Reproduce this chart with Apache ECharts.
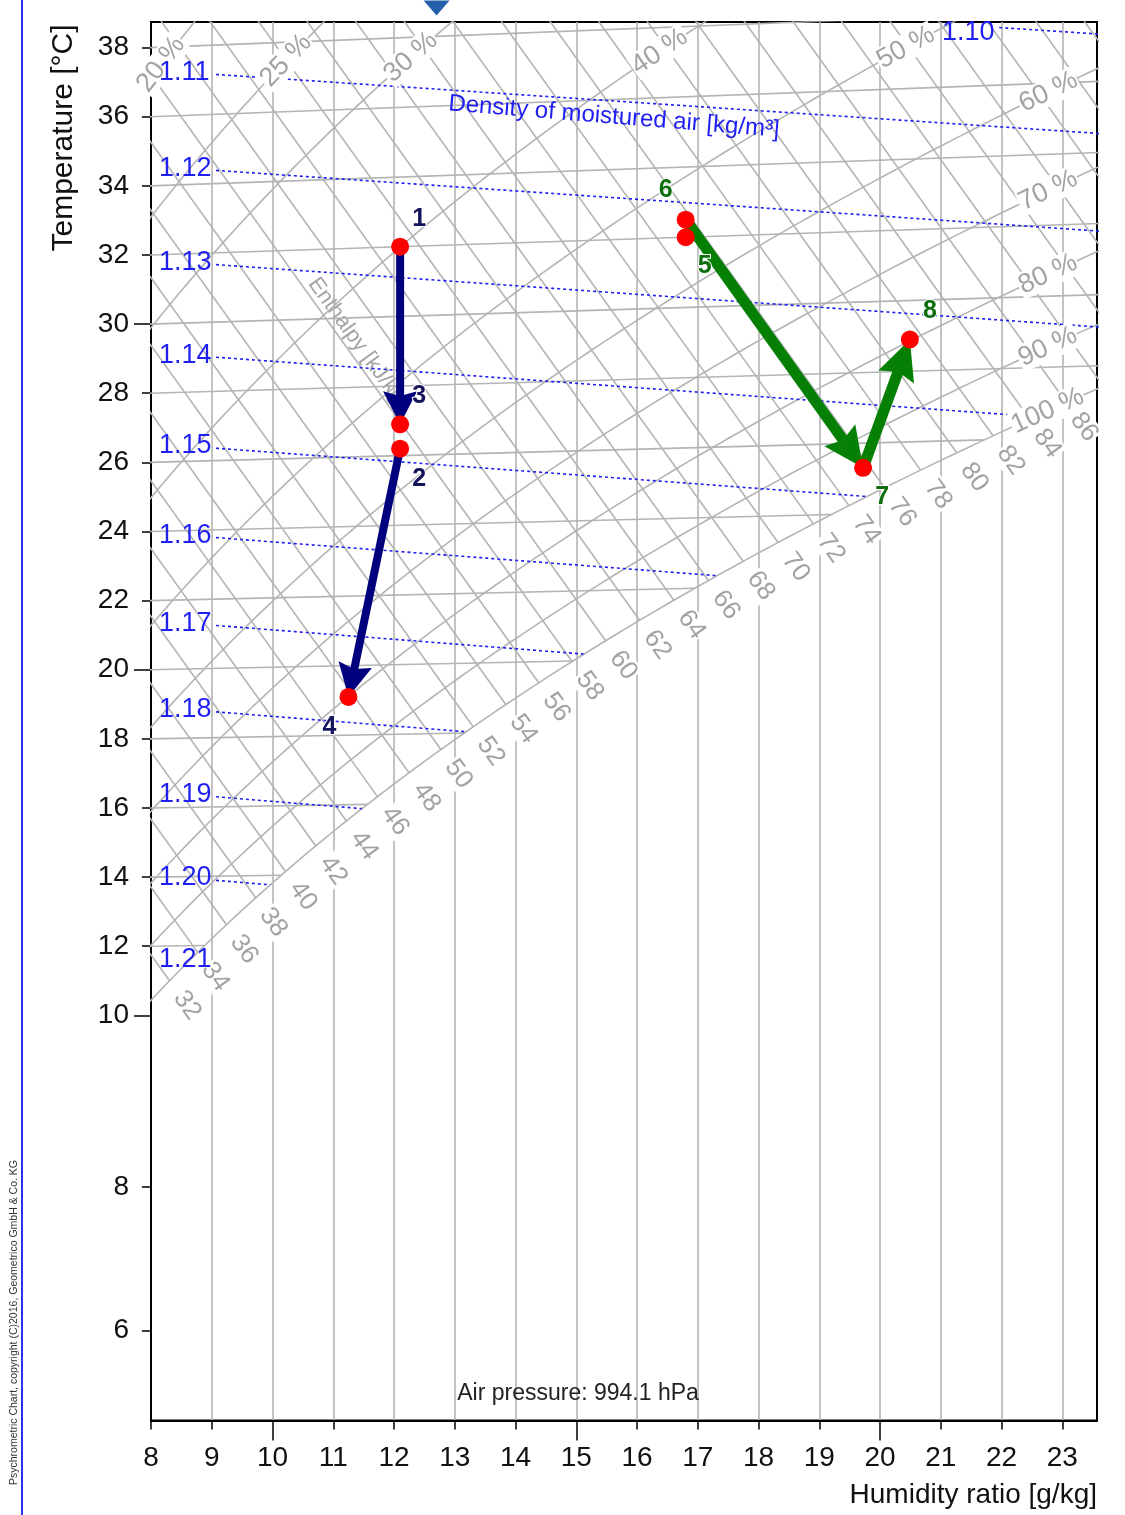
<!DOCTYPE html>
<html><head><meta charset="utf-8"><title>Psychrometric chart</title>
<script src="https://cdn.jsdelivr.net/npm/echarts@6.0.0/dist/echarts.min.js"></script>
<style>html,body{margin:0;padding:0;background:#fff;}#chart{width:1125px;height:1515px;}</style>
</head><body><div id="chart"></div>
<script>
// ---------------- values ----------------
const airPressure = 994.1; // hPa
const pointNames = ['1', '2', '3', '4', '5', '6', '7', '8'];
const pointHumidity = [12.1, 12.1, 12.1, 11.25, 16.8, 16.8, 19.72, 20.49]; // g/kg
const pointTemp = [32.0, 26.2, 26.9, 19.1, 32.0, 32.5, 25.3, 28.9];        // °C
const pointProcess = ['A', 'A', 'A', 'A', 'B', 'B', 'B', 'B'];
const arrowFrom = ['1', '2', '6', '7'];
const arrowTo = ['3', '4', '7', '8'];
const markerHumidity = [12.7];
const xTickLabels = [8, 9, 10, 11, 12, 13, 14, 15, 16, 17, 18, 19, 20, 21, 22, 23];
const xMajorTicks = [10, 15, 20];
const yTickLabels = [6, 8, 10, 12, 14, 16, 18, 20, 22, 24, 26, 28, 30, 32, 34, 36, 38];
const yMajorTicks = [10, 20, 30];
const isothermLevels = [12, 14, 16, 18, 20, 22, 24, 26, 28, 30, 32, 34, 36, 38];
const enthalpyLevels = [30, 32, 34, 36, 38, 40, 42, 44, 46, 48, 50, 52, 54, 56, 58, 60, 62, 64, 66, 68, 70, 72, 74, 76, 78, 80, 82, 84, 86, 88, 90, 92, 94, 96, 98, 100];
const enthalpyLabelLevels = [32, 34, 36, 38, 40, 42, 44, 46, 48, 50, 52, 54, 56, 58, 60, 62, 64, 66, 68, 70, 72, 74, 76, 78, 80, 82, 84, 86];
const rhLevels = [20, 25, 30, 40, 50, 60, 70, 80, 90, 100];
const densityLevels = [1.10, 1.11, 1.12, 1.13, 1.14, 1.15, 1.16, 1.17, 1.18, 1.19, 1.20, 1.21];

// ---------------- layout ----------------
const W = 1125, H = 1515;
const GRID = { left: 151, right: 28, top: 22, bottom: 94.5 };
const X_MIN = 8, X_MAX = 23.57, Y_MIN = -1.76, Y_MAX = 39.55;
const SX = (W - GRID.left - GRID.right) / (X_MAX - X_MIN);
const SY = (H - GRID.top - GRID.bottom) / (Y_MAX - Y_MIN);
const FONT = "'Liberation Sans', Arial, Helvetica, sans-serif";
const GRAY = '#b4b4b4', LABEL_GRAY = '#a3a3a3', BLUE = '#1f1ff2';

// ---------------- Mollier (h,x) chart coordinate system ----------------
const P = airPressure;
const pws = T => 6.112 * Math.exp(17.62 * T / (243.12 + T));
const xSat = T => { const e = pws(T); return 622 * e / (P - e); };
const hOf = (T, x) => 1.006 * T + x * (2.501 + 0.00186 * T);
const skewY = (T, x) => hOf(T, x) - 2.501 * x;           // chart ordinate (kJ/kg)
const tDew = x => { const e = P * x / (622 + x); const l = Math.log(e / 6.112); return 243.12 * l / (17.62 - l); };
const fogY = (T, x) => { const xs = xSat(T); return hOf(T, xs) + (x - xs) * 0.00419 * T - 2.501 * x; };
const tickY = T => (T >= 10 ? skewY(T, 8) : fogY(T, 8));
const densT = (rho, x) => { const X = x / 1000; return P * 100 * (1 + X) / (287.05 * rho * (1 + 1.6078 * X)) - 273.15; };
function satTforH(h) { let a = -20, b = 60; for (let i = 0; i < 60; i++) { const m = (a + b) / 2; if (hOf(m, xSat(m)) < h) a = m; else b = m; } return (a + b) / 2; }
const inside = p => p[0] >= X_MIN - 1e-9 && p[0] <= X_MAX + 1e-9 && p[1] >= Y_MIN && p[1] <= Y_MAX + 1e-9;
const pxDist = (a, b) => Math.hypot((b[0] - a[0]) * SX, (b[1] - a[1]) * SY);
const pxAngle = (a, b) => Math.atan2((b[1] - a[1]) * SY, (b[0] - a[0]) * SX) * 180 / Math.PI;

function lineSeries(data, color, width, type, z) {
  return { type: 'line', data: data, showSymbol: false, symbol: 'none', silent: true, clip: true,
    animation: false, z: z, lineStyle: { color: color, width: width, type: type } };
}

const series = [];
// isotherms
isothermLevels.forEach(T => {
  const xe = Math.min(xSat(T), X_MAX + 1);
  series.push(lineSeries([[X_MIN - 0.2, skewY(T, X_MIN - 0.2)], [xe, skewY(T, xe)]], GRAY, 1.6, 'solid', 1));
});
// enthalpy lines
const enthLabelData = [];
enthalpyLevels.forEach(h => {
  const Ts = satTforH(h), xs = xSat(Ts);
  const xe = Math.min(xs, X_MAX + 1);
  series.push(lineSeries([[xe, h - 2.501 * xe], [X_MIN - 0.5, h - 2.501 * (X_MIN - 0.5)]], GRAY, 1.6, 'solid', 1));
  if (enthalpyLabelLevels.indexOf(h) >= 0) {
    const xl = xs + 0.29;
    enthLabelData.push({ value: [xl, h - 2.501 * xl], label: { formatter: String(h) } });
  }
});
// relative humidity curves
const rhLabelData = [];
rhLevels.forEach(rh => {
  const pts = [];
  for (let T = -10; T <= 48; T += 0.2) {
    const e = rh / 100 * pws(T), x = 622 * e / (P - e);
    if (x > 30) break;
    pts.push([x, skewY(T, x)]);
  }
  series.push(lineSeries(pts, GRAY, 1.6, 'solid', 1));
  let i = pts.length - 1; while (i > 0 && !inside(pts[i])) i--;
  let a = pts[i], b = pts[i + 1] || pts[i];
  let lo = 0, hi = 1; for (let k = 0; k < 40; k++) { const m = (lo + hi) / 2; const q = [a[0] + (b[0] - a[0]) * m, a[1] + (b[1] - a[1]) * m]; if (inside(q)) lo = m; else hi = m; }
  let cur = [a[0] + (b[0] - a[0]) * lo, a[1] + (b[1] - a[1]) * lo];
  let need = 54, j = i;
  while (j > 0) {
    const d = pxDist(pts[j], cur);
    if (d >= need) { const t = need / d; cur = [cur[0] + (pts[j][0] - cur[0]) * t, cur[1] + (pts[j][1] - cur[1]) * t]; break; }
    need -= d; cur = pts[j]; j--;
  }
  const ang = pxAngle(pts[Math.max(j - 1, 0)], pts[Math.min(j + 1, pts.length - 1)]);
  rhLabelData.push({ value: cur, label: { formatter: rh + ' %', rotate: ang } });
});
// density lines
const densLabelData = [];
densityLevels.forEach(rho => {
  const Yd = x => skewY(densT(rho, x), x);
  let xl = X_MIN + 0.13;
  while (Yd(xl) > Y_MAX && xl < X_MAX) xl += 0.02;
  const atTop = xl > X_MIN + 0.2;
  if (atTop) xl += 0.45;
  densLabelData.push({ value: [xl, Math.min(Yd(xl + 0.45), Y_MAX - 0.3)], label: { formatter: rho.toFixed(2) } });
  const pts = [];
  let prev = null;
  for (let x = xl + 0.94; x <= X_MAX + 0.5; x += 0.05) {
    const T = densT(rho, x), td = tDew(x);
    if (T < td) {
      if (prev) { const f = prev[2] / (prev[2] - (T - td)); const xc = prev[0] + (x - prev[0]) * f; pts.push([xc, Yd(xc)]); }
      break;
    }
    pts.push([x, Yd(x)]); prev = [x, T, T - td];
  }
  if (pts.length > 1) series.push(lineSeries(pts, BLUE, 1.6, [3, 3], 2));
});

// label layers
const solid = { opacity: 1 };
series.push({ type: 'scatter', data: enthLabelData, symbolSize: 0, silent: true, z: 3, clip: false, itemStyle: solid,
  label: { show: true, position: 'inside', rotate: -Math.atan2(2.501 * SY, SX) * 180 / Math.PI, color: LABEL_GRAY, fontSize: 26, fontFamily: FONT, backgroundColor: '#fff', padding: [0, 1] } });
series.push({ type: 'scatter', data: rhLabelData, symbolSize: 0, silent: true, z: 3, clip: false, itemStyle: solid,
  label: { show: true, position: 'inside', color: LABEL_GRAY, fontSize: 27, fontFamily: FONT, backgroundColor: '#fff', padding: [0, 1] } });
series.push({ type: 'scatter', data: densLabelData, symbolSize: 0, silent: true, z: 3, clip: false, itemStyle: solid,
  label: { show: true, position: 'right', distance: 0, color: BLUE, fontSize: 27, fontFamily: FONT } });

// process arrows
const pointCoord = n => { const i = pointNames.indexOf(n); return [pointHumidity[i], skewY(pointTemp[i], pointHumidity[i])]; };
function arrowSeries(pairs, color, shaft, headLen, headW) {
  return { type: 'custom', coordinateSystem: 'cartesian2d', z: 5, silent: true, clip: false,
    data: pairs, encode: { x: [0, 2], y: [1, 3] },
    renderItem: (params, api) => {
      const a = api.coord([api.value(0), api.value(1)]), b = api.coord([api.value(2), api.value(3)]);
      const dx = b[0] - a[0], dy = b[1] - a[1], L = Math.hypot(dx, dy), ux = dx / L, uy = dy / L, nx = -uy, ny = ux;
      const base = [b[0] - ux * headLen, b[1] - uy * headLen];
      const notch = [b[0] - ux * headLen * 0.86, b[1] - uy * headLen * 0.86];
      return { type: 'group', children: [
        { type: 'line', shape: { x1: a[0], y1: a[1], x2: notch[0], y2: notch[1] }, style: { stroke: color, lineWidth: shaft } },
        { type: 'polygon', shape: { points: [b, [base[0] + nx * headW / 2, base[1] + ny * headW / 2], notch, [base[0] - nx * headW / 2, base[1] - ny * headW / 2]] }, style: { fill: color } }
      ] };
    } };
}
const pairsA = [], pairsB = [];
arrowFrom.forEach((f, k) => {
  const p = pointCoord(f), q = pointCoord(arrowTo[k]);
  (pointProcess[pointNames.indexOf(f)] === 'A' ? pairsA : pairsB).push([p[0], p[1], q[0], q[1]]);
});
series.push(arrowSeries(pairsA, '#00007f', 8, 33, 34));
series.push(arrowSeries(pairsB, '#058005', 11, 40, 38));

// state points
const labelOffsets = { '1': [19, -28], '2': [19, 30], '3': [19, -28], '4': [-19, 30], '5': [19, 29], '6': [-20, -30], '7': [19, 29], '8': [20, -28] };
series.push({ type: 'scatter', z: 6, silent: true, symbolSize: 18, itemStyle: { color: '#ff0000', opacity: 1 },
  data: pointNames.map((n, i) => ({ name: n, value: pointCoord(n),
    label: { show: true, formatter: n, position: 'inside', offset: labelOffsets[n], color: pointProcess[i] === 'A' ? '#14145c' : '#0d6e0d' } })),
  label: { fontSize: 25, fontWeight: 'bold', fontFamily: FONT, textBorderColor: '#fff', textBorderWidth: 2 } });
// marker on the top edge
series.push({ type: 'scatter', z: 6, silent: true, clip: false, symbol: 'triangle', symbolRotate: 180, symbolSize: [26, 15], symbolOffset: [0, -14],
  itemStyle: { color: '#2660aa', opacity: 1 }, data: markerHumidity.map(x => [x, Y_MAX]) });

const yTickPos = yTickLabels.map(tickY);
const yMajorPos = yMajorTicks.map(tickY);
const yLabelFor = v => { let best = 0; yTickPos.forEach((p, i) => { if (Math.abs(p - v) < Math.abs(yTickPos[best] - v)) best = i; }); return String(yTickLabels[best]); };

const axisText = { fontSize: 28, color: '#111', fontFamily: FONT };
const option = {
  animation: false,
  backgroundColor: '#fff',
  grid: { left: GRID.left, right: GRID.right, top: GRID.top, bottom: GRID.bottom, show: true, borderColor: '#000', borderWidth: 2, backgroundColor: 'transparent' },
  xAxis: [
    { type: 'value', min: X_MIN, max: X_MAX, position: 'bottom',
      axisLine: { show: true, onZero: false, lineStyle: { color: '#000', width: 2 } },
      axisTick: { show: true, customValues: xTickLabels, length: 9, lineStyle: { color: '#000', width: 1.5 } },
      axisLabel: Object.assign({ customValues: xTickLabels, margin: 24 }, axisText),
      splitLine: { show: true, lineStyle: { color: GRAY, width: 1.6 } } },
    { type: 'value', min: X_MIN, max: X_MAX, position: 'bottom', axisLine: { show: false, onZero: false },
      axisTick: { show: true, customValues: xMajorTicks, length: 20, lineStyle: { color: '#000', width: 1.5 } },
      axisLabel: { show: false }, splitLine: { show: false } }
  ],
  yAxis: [
    { type: 'value', min: Y_MIN, max: Y_MAX, position: 'left',
      axisLine: { show: true, onZero: false, lineStyle: { color: '#000', width: 2 } },
      axisTick: { show: true, customValues: yTickPos, length: 9, lineStyle: { color: '#000', width: 1.5 } },
      axisLabel: Object.assign({ customValues: yTickPos, margin: 22, formatter: yLabelFor }, axisText),
      splitLine: { show: false } },
    { type: 'value', min: Y_MIN, max: Y_MAX, position: 'left', axisLine: { show: false, onZero: false },
      axisTick: { show: true, customValues: yMajorPos, length: 17, lineStyle: { color: '#000', width: 1.5 } },
      axisLabel: { show: false }, splitLine: { show: false } }
  ],
  graphic: [
    { type: 'line', shape: { x1: 22, y1: 0, x2: 22, y2: H }, style: { stroke: '#2436e6', lineWidth: 2 } },
    { type: 'text', x: 14, y: 1160, rotation: Math.PI / 2, style: { text: 'Psychrometric Chart, copyright (C)2016, Geometrico GmbH & Co. KG', fontSize: 10.5, fontFamily: FONT, fill: '#333', align: 'right', verticalAlign: 'middle' } },
    { type: 'text', x: 64, y: 138, rotation: Math.PI / 2, style: { text: 'Temperature [°C]', fontSize: 30, fontFamily: FONT, fill: '#111', align: 'center', verticalAlign: 'middle' } },
    { type: 'text', x: 1097, y: 1495, style: { text: 'Humidity ratio [g/kg]', fontSize: 28, fontFamily: FONT, fill: '#111', align: 'right', verticalAlign: 'middle' } },
    { type: 'text', x: 578, y: 1394, z: 10, style: { text: 'Air pressure: 994.1 hPa', fontSize: 23, fontFamily: FONT, fill: '#222', align: 'center', verticalAlign: 'middle' } },
    { type: 'text', x: 614, y: 117, rotation: -0.08, z: 10, style: { text: 'Density of moistured air [kg/m³]', fontSize: 24, fontFamily: FONT, fill: BLUE, align: 'center', verticalAlign: 'middle' } },
    { type: 'text', x: 358, y: 343, rotation: -Math.atan2(2.501 * SY, SX), style: { text: 'Enthalpy [kJ/kg]', fontSize: 22, fontFamily: FONT, fill: LABEL_GRAY, align: 'center', verticalAlign: 'middle' } }
  ],
  series: series
};
const chart = echarts.init(document.getElementById('chart'), null, { renderer: 'canvas' });
chart.setOption(option);
</script>
</body></html>
